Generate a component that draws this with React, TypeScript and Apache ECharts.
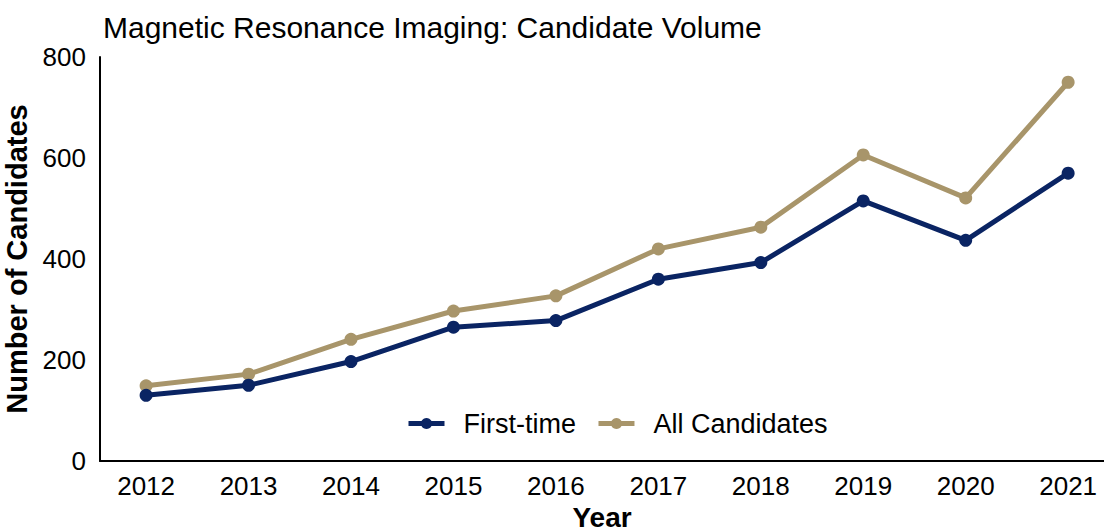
import React, { useEffect, useRef } from "react";
import * as echarts from "echarts";

const years = [2012, 2013, 2014, 2015, 2016, 2017, 2018, 2019, 2020, 2021];
const firstTime = [130, 150, 197, 265, 278, 360, 393, 515, 437, 570];
const allCandidates = [149, 172, 241, 297, 327, 420, 463, 606, 521, 750];
const yTicks = [0, 200, 400, 600, 800];

const FONT = "'Liberation Sans', Arial, sans-serif";
const NAVY = "#0A2463";
const GOLD = "#A8956A";

export default function App() {
  const ref = useRef<HTMLDivElement>(null);
  useEffect(() => {
    if (!ref.current) return;
    const chart = echarts.init(ref.current, null, { renderer: "svg" });
    chart.setOption({
      animation: false,
      backgroundColor: "#ffffff",
      title: {
        text: "Magnetic Resonance Imaging: Candidate Volume",
        left: 98,
        top: 7,
        textStyle: { fontFamily: FONT, fontSize: 30, fontWeight: "normal", color: "#000" },
      },
      legend: {
        left: 401,
        top: 405,
        itemWidth: 36,
        itemHeight: 14,
        itemGap: 20,
        lineStyle: { width: 5 },
        textStyle: { fontFamily: FONT, fontSize: 27, color: "#000", padding: [0, 0, 0, 14] },
        data: ["First-time", "All Candidates"],
      },
      grid: { left: 100, right: 0, top: 57, bottom: 71, containLabel: false, outerBoundsMode: "none" },
      xAxis: {
        type: "value",
        min: 2011.55,
        max: 2021.35,
        name: "Year",
        nameLocation: "middle",
        nameGap: 39,
        nameTextStyle: { fontFamily: FONT, fontSize: 28, fontWeight: "bold", color: "#000" },
        axisLine: { show: true, lineStyle: { color: "#000", width: 2 } },
        axisTick: { show: false },
        splitLine: { show: false },
        axisLabel: {
          customValues: years,
          formatter: (v: number) => String(v),
          fontFamily: FONT,
          fontSize: 26,
          color: "#000",
          margin: 12,
        },
      },
      yAxis: {
        type: "value",
        min: 0,
        max: 800,
        interval: 200,
        name: "Number of Candidates",
        nameLocation: "middle",
        nameGap: 61,
        nameRotate: 90,
        nameTextStyle: { fontFamily: FONT, fontSize: 29, fontWeight: "bold", color: "#000" },
        axisLine: { show: true, lineStyle: { color: "#000", width: 2 } },
        axisTick: { show: false },
        splitLine: { show: false },
        axisLabel: {
          customValues: yTicks,
          fontFamily: FONT,
          fontSize: 26,
          color: "#000",
          margin: 14,
        },
      },
      series: [
        {
          name: "First-time",
          type: "line",
          data: years.map((y, i) => [y, firstTime[i]]),
          symbol: "circle",
          symbolSize: 13,
          lineStyle: { width: 5, color: NAVY },
          itemStyle: { color: NAVY },
          z: 3,
        },
        {
          name: "All Candidates",
          type: "line",
          data: years.map((y, i) => [y, allCandidates[i]]),
          symbol: "circle",
          symbolSize: 13,
          lineStyle: { width: 5, color: GOLD },
          itemStyle: { color: GOLD },
          z: 2,
        },
      ],
    });
    return () => chart.dispose();
  }, []);
  return <div ref={ref} style={{ width: 1104, height: 532, position: "absolute", left: 0, top: 0 }} />;
}
